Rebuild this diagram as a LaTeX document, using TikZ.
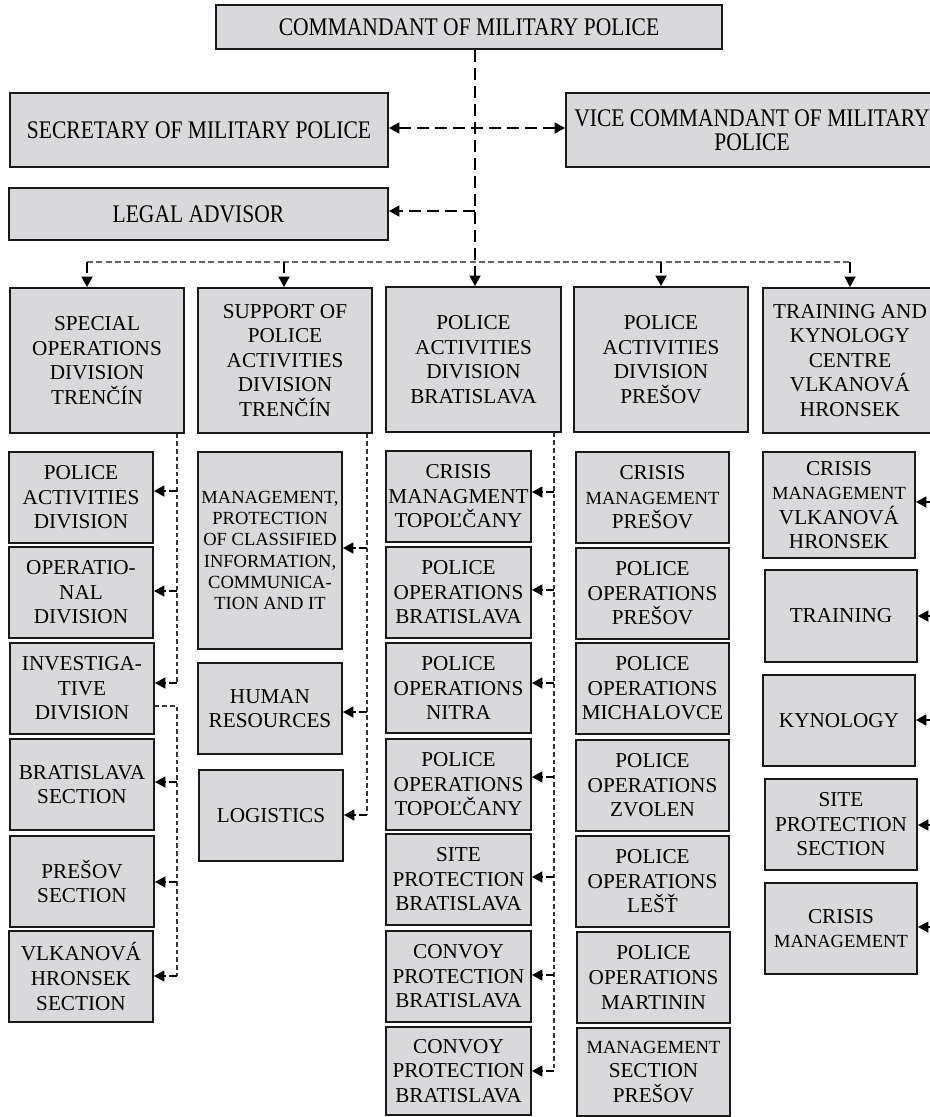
\documentclass[tikz,border=0pt]{standalone}
\usepackage{fontspec}
\setmainfont{Liberation Serif}
\newfontfamily\topfont{Liberation Serif}[FakeStretch=0.85]
\usetikzlibrary{arrows.meta}
\definecolor{boxgray}{RGB}{217,217,219}
\newcommand\mainsz{\fontsize{15.9pt}{18.4pt}\selectfont}
\newcommand\smsz{\fontsize{13.9pt}{16pt}\selectfont}
\newcommand\topsz{\topfont\fontsize{19pt}{18pt}\selectfont}
\newcommand\sm[1]{{\smsz #1}}
\tikzset{
  box/.style={draw=black!90, line width=1.2pt, fill=boxgray, inner sep=0pt, align=center, font=\mainsz, text=black},
  topbox/.style={font=\topsz},
  smallbox/.style={font=\smsz},
  >={Triangle[length=8pt,width=8pt]},
  mainline/.style={line width=2pt, dash pattern=on 9pt off 4.5pt, black},
  bus/.style={line width=1.1pt, dash pattern=on 4.5pt off 2.5pt, black!60},
  drop/.style={line width=2.2pt, dash pattern=on 8pt off 3pt, black},
  vline/.style={line width=0.8pt, dash pattern=on 3.5pt off 2.2pt, black!80},
  branch/.style={line width=2.2pt, dash pattern=on 6pt off 2.5pt, black},
}
\newcommand\bx[7][]{%
  \pgfmathsetmacro\bw{(#5-#3)*0.75}%
  \pgfmathsetmacro\bh{(#6-#4)*0.75}%
  \node[box,#1,minimum width=\bw pt,minimum height=\bh pt] (#2) at ({(#3+#5)/2},{(#4+#6)/2}) {#7};}
\begin{document}
\begin{tikzpicture}[x=0.75pt,y=-0.75pt]
\useasboundingbox (0,0) rectangle (930,1117);
\fill[white] (0,0) rectangle (930,1117);
\clip (0,0) rectangle (930,1117);
% top level
\bx[topbox]{cmd}{216}{5}{722}{49}{COMMANDANT OF MILITARY POLICE}
\bx[topbox]{sec}{10}{93}{388}{167}{SECRETARY OF MILITARY POLICE}
\bx[topbox]{vice}{566}{93}{938}{167}{VICE COMMANDANT OF MILITARY\\POLICE}
\bx[topbox]{legal}{9}{188}{388}{240}{LEGAL ADVISOR}
% divisions
\bx{so}{10}{288}{184}{433}{SPECIAL\\OPERATIONS\\DIVISION\\TRENČÍN}
\bx{sup}{198}{288}{372}{433}{SUPPORT OF\\POLICE\\ACTIVITIES\\DIVISION\\TRENČÍN}
\bx{pb}{386}{287}{561}{432}{POLICE\\ACTIVITIES\\DIVISION\\BRATISLAVA}
\bx{pp}{574}{287}{748}{432}{POLICE\\ACTIVITIES\\DIVISION\\PREŠOV}
\bx{tk}{763}{288}{937}{433}{TRAINING AND\\KYNOLOGY\\CENTRE\\VLKANOVÁ\\HRONSEK}
% column 1
\bx{c1a}{9}{452}{153}{543}{POLICE\\ACTIVITIES\\DIVISION}
\bx{c1b}{9}{547}{153}{638}{OPERATIO-\\NAL\\DIVISION}
\bx{c1c}{10}{643}{154}{734}{INVESTIGA-\\TIVE\\DIVISION}
\bx{c1d}{10}{739}{154}{830}{BRATISLAVA\\SECTION}
\bx{c1e}{10}{836}{154}{927}{PREŠOV\\SECTION}
\bx{c1f}{9}{931}{153}{1022}{VLKANOVÁ\\HRONSEK\\SECTION}
% column 2
\bx[smallbox]{c2a}{198}{452}{342}{649}{MANAGEMENT,\\PROTECTION\\OF CLASSIFIED\\INFORMATION,\\COMMUNICA-\\TION AND IT}
\bx{c2b}{198}{663}{342}{754}{HUMAN\\RESOURCES}
\bx{c2c}{199}{770}{343}{861}{LOGISTICS}
% column 3
\bx{c3a}{386}{451}{531}{542}{CRISIS\\MANAGMENT\\TOPOĽČANY}
\bx{c3b}{386}{547}{531}{638}{POLICE\\OPERATIONS\\BRATISLAVA}
\bx{c3c}{386}{643}{531}{733}{POLICE\\OPERATIONS\\NITRA}
\bx{c3d}{386}{739}{531}{830}{POLICE\\OPERATIONS\\TOPOĽČANY}
\bx{c3e}{386}{834}{531}{925}{SITE\\PROTECTION\\BRATISLAVA}
\bx{c3f}{386}{931}{531}{1022}{CONVOY\\PROTECTION\\BRATISLAVA}
\bx{c3g}{386}{1027}{531}{1115}{CONVOY\\PROTECTION\\BRATISLAVA}
% column 4
\bx{c4a}{576}{452}{729}{543}{CRISIS\\\sm{MANAGEMENT}\\PREŠOV}
\bx{c4b}{576}{548}{729}{639}{POLICE\\OPERATIONS\\PREŠOV}
\bx{c4c}{576}{643}{729}{734}{POLICE\\OPERATIONS\\MICHALOVCE}
\bx{c4d}{576}{740}{729}{831}{POLICE\\OPERATIONS\\ZVOLEN}
\bx{c4e}{576}{836}{729}{927}{POLICE\\OPERATIONS\\LEŠŤ}
\bx{c4f}{577}{932}{730}{1023}{POLICE\\OPERATIONS\\MARTININ}
\bx{c4g}{577}{1028}{730}{1116}{\sm{MANAGEMENT}\\SECTION\\PREŠOV}
% column 5
\bx{c5a}{763}{452}{915}{558}{CRISIS\\\sm{MANAGEMENT}\\VLKANOVÁ\\HRONSEK}
\bx{c5b}{765}{570}{917}{662}{TRAINING}
\bx{c5c}{763}{675}{915}{766}{KYNOLOGY}
\bx{c5d}{765}{779}{917}{870}{SITE\\PROTECTION\\SECTION}
\bx{c5e}{765}{883}{917}{974}{CRISIS\\\sm{MANAGEMENT}}
% connector coordinates
\coordinate (j) at (475,0);
\coordinate (bL) at (87,262);
\coordinate (b2) at (284,262);
\coordinate (b4) at (661,262);
\coordinate (bR) at (850,262);
\coordinate (v1) at (177,0);
\coordinate (v2) at (367,0);
\coordinate (v3) at (554,0);
\coordinate (r5) at (931,0);
% top connectors
\draw[bus] (bL) -- (bR);
\draw[mainline,->] (cmd.south -| j) -- (pb.north -| j);
\draw[mainline,<->] (sec.east |- 0,128) -- (vice.west |- 0,128);
\draw[mainline,->] (j |- 0,211) -- (legal.east |- 0,211);
\draw[drop,->] (bL) -- (so.north -| bL);
\draw[drop,->] (b2) -- (sup.north -| b2);
\draw[drop,->] (b4) -- (pp.north -| b4);
\draw[drop,->] (bR) -- (tk.north -| bR);
% column 1
\draw[vline] (so.south -| v1) -- (v1 |- 0,683);
\foreach \yy/\nn in {491/c1a,591/c1b,683/c1c}
  \draw[branch,->] (v1 |- 0,\yy) -- (\nn.east |- 0,\yy);
\draw[vline] (c1c.east |- 0,706) -| (v1 |- 0,976);
\foreach \yy/\nn in {782/c1d,882/c1e,976/c1f}
  \draw[branch,->] (v1 |- 0,\yy) -- (\nn.east |- 0,\yy);
% column 2
\draw[vline] (sup.south -| v2) -- (v2 |- 0,815);
\foreach \yy/\nn in {548/c2a,712/c2b,815/c2c}
  \draw[branch,->] (v2 |- 0,\yy) -- (\nn.east |- 0,\yy);
% column 3
\draw[vline] (pb.south -| v3) -- (v3 |- 0,1071);
\foreach \yy/\nn in {492/c3a,590/c3b,683/c3c,777/c3d,877/c3e,975/c3f,1071/c3g}
  \draw[branch,->] (v3 |- 0,\yy) -- (\nn.east |- 0,\yy);
% column 5
\foreach \yy/\nn in {502/c5a,616/c5b,720/c5c,825/c5d,927/c5e}
  \draw[branch,->] (r5 |- 0,\yy) -- (\nn.east |- 0,\yy);
\end{tikzpicture}
\end{document}
